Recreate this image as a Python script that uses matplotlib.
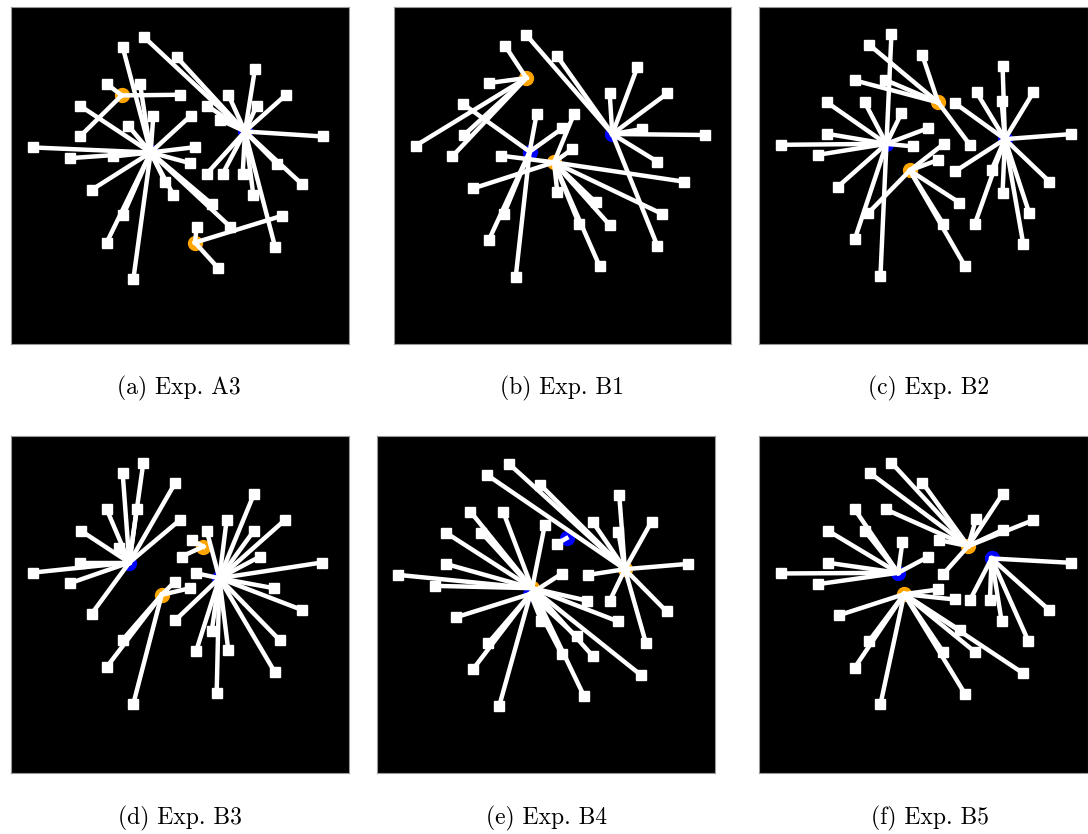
import matplotlib
matplotlib.use("Agg")
import matplotlib.pyplot as plt

# coordinates are read off the picture, in each panel's own pixel frame (3x)
# hubs: (x, y, colour), nodes: (x, y, index of hub)
a_hubs = [(452, 458, "blue"), (735, 395, "blue"), (365, 287, "orange"), (585, 728, "orange")]
a_nodes = [(368, 142, 0), (420, 252, 0), (240, 318, 0), (100, 443, 0), (210, 475, 0),
           (340, 470, 0), (275, 570, 0), (370, 645, 0), (320, 728, 0), (400, 838, 0),
           (460, 348, 0), (572, 348, 0), (585, 442, 0), (570, 490, 0), (495, 545, 0),
           (520, 585, 0), (635, 612, 0), (690, 680, 0), (385, 378, 0),
           (432, 112, 1), (530, 172, 1), (765, 207, 1), (858, 285, 1), (685, 285, 1),
           (770, 318, 1), (622, 318, 1), (968, 410, 1), (905, 552, 1), (830, 492, 1),
           (620, 522, 1), (668, 522, 1), (728, 522, 1), (760, 585, 1), (825, 740, 1),
           (660, 360, 1),
           (540, 285, 2), (240, 410, 2), (320, 252, 2),
           (845, 648, 3), (655, 805, 3), (590, 680, 3)]

b_hubs = [(422, 237, "orange"), (432, 458, "blue"), (505, 490, "orange"), (680, 405, "blue")]
b_nodes = [(358, 140, 0), (310, 252, 0), (90, 440, 0), (235, 408, 0), (200, 472, 0),
           (232, 315, 1), (453, 345, 1), (530, 388, 1), (355, 645, 1), (310, 722, 1),
           (390, 835, 1),
           (565, 345, 2), (345, 470, 2), (263, 568, 2), (515, 580, 2), (580, 675, 2),
           (642, 802, 2), (630, 610, 2), (672, 678, 2), (830, 645, 2), (895, 548, 2),
           (560, 450, 2),
           (422, 108, 3), (515, 172, 3), (815, 488, 3), (755, 205, 3), (845, 283, 3),
           (672, 283, 3), (770, 390, 3), (958, 408, 3), (815, 740, 3)]

c_hubs = [(565, 308, "orange"), (410, 432, "blue"), (480, 512, "orange"), (765, 418, "blue")]
c_nodes = [(358, 135, 0), (517, 165, 0), (315, 242, 0), (405, 240, 0), (660, 435, 0),
           (425, 102, 1), (232, 308, 1), (345, 308, 1), (455, 340, 1), (535, 385, 1),
           (232, 402, 1), (95, 435, 1), (205, 465, 1), (265, 560, 1), (315, 718, 1),
           (392, 828, 1), (490, 440, 1),
           (355, 640, 2), (582, 432, 2), (565, 480, 2), (628, 608, 2), (580, 672, 2),
           (645, 798, 2),
           (615, 310, 3), (680, 278, 3), (758, 198, 3), (850, 278, 3), (755, 305, 3),
           (962, 403, 3), (615, 515, 3), (725, 510, 3), (758, 578, 3), (898, 545, 3),
           (675, 672, 3), (838, 640, 3), (820, 732, 3)]

d_hubs = [(388, 398, "blue"), (658, 445, "blue"), (610, 350, "orange"), (485, 495, "orange")]
d_nodes = [(430, 98, 0), (368, 130, 0), (525, 160, 0), (320, 238, 0), (410, 238, 0),
           (540, 270, 0), (242, 302, 0), (358, 355, 0), (240, 398, 0), (100, 428, 0),
           (210, 460, 0), (275, 552, 0),
           (525, 572, 1), (620, 302, 1), (680, 270, 1), (762, 192, 1), (762, 302, 1),
           (855, 270, 1), (780, 380, 1), (965, 398, 1), (588, 430, 1), (822, 475, 1),
           (905, 540, 1), (840, 632, 1), (825, 728, 1), (685, 662, 1), (588, 665, 1),
           (650, 790, 1), (635, 605, 1),
           (575, 330, 2), (545, 380, 2),
           (368, 630, 3), (320, 712, 3), (400, 822, 3), (525, 455, 3), (570, 475, 3)]

e_hubs = [(590, 325, "blue"), (487, 475, "orange"), (482, 492, "blue"), (765, 418, "orange")]
e_nodes = [(560, 342, 0),
           (302, 245, 1), (400, 245, 1), (228, 308, 1), (335, 308, 1), (228, 402, 1),
           (85, 435, 1), (195, 468, 1), (525, 285, 1), (650, 512, 1), (745, 575, 1),
           (668, 678, 1), (642, 798, 1), (812, 735, 1),
           (575, 432, 2), (260, 562, 2), (355, 640, 2), (310, 718, 2), (388, 830, 2),
           (515, 575, 2), (575, 672, 2), (620, 620, 2),
           (418, 102, 3), (352, 135, 3), (512, 165, 3), (748, 195, 3), (845, 275, 3),
           (668, 275, 3), (745, 305, 3), (955, 402, 3), (655, 435, 3), (720, 512, 3),
           (890, 545, 3), (828, 640, 3)]

f_hubs = [(655, 348, "orange"), (725, 385, "blue"), (445, 428, "blue"), (463, 492, "orange")]
f_nodes = [(425, 98, 0), (362, 130, 0), (518, 158, 0), (408, 238, 0), (758, 192, 0),
           (850, 270, 0), (678, 268, 0), (758, 300, 0), (580, 432, 0), (568, 330, 0),
           (962, 398, 1), (660, 510, 1), (720, 510, 1), (755, 572, 1), (898, 540, 1),
           (835, 632, 1),
           (315, 238, 2), (235, 302, 2), (345, 302, 2), (458, 335, 2), (535, 380, 2),
           (235, 398, 2), (95, 430, 2), (205, 462, 2),
           (565, 478, 3), (615, 508, 3), (268, 555, 3), (358, 632, 3), (315, 712, 3),
           (392, 822, 3), (580, 665, 3), (645, 790, 3), (675, 665, 3), (818, 728, 3),
           (630, 600, 3)]

captions = ["(a) Exp. A3", "(b) Exp. B1", "(c) Exp. B2",
            "(d) Exp. B3", "(e) Exp. B4", "(f) Exp. B5"]

# panel frames (xmin, xmax, ymin, ymax) in the same units as the points
frames = [(33, 1047, 22, 1032), (25, 1036, 24, 1035), (28, 1014, 22, 1032),
          (33, 1047, 18, 1030), (22, 1035, 18, 1030), (28, 1014, 18, 1028)]

# panel boxes on the figure, in pixels: left, top, right, bottom
boxes = [(11, 7, 349, 344), (394, 7, 731, 344), (759, 7, 1088, 344),
         (11, 436, 349, 773), (377, 436, 715, 773), (759, 436, 1088, 773)]
cap_pos = [(179, 388), (562, 388), (929, 388), (180, 818), (547, 818), (930, 818)]

panels = [(a_hubs, a_nodes), (b_hubs, b_nodes), (c_hubs, c_nodes),
          (d_hubs, d_nodes), (e_hubs, e_nodes), (f_hubs, f_nodes)]

W, H = 1088, 834
fig = plt.figure(figsize=(W / 100, H / 100), dpi=100)

for (hubs, nodes), fr, bx, cap, cp in zip(panels, frames, boxes, captions, cap_pos):
    l, t, r, b = bx
    ax = fig.add_axes([l / W, 1 - b / H, (r - l) / W, (b - t) / H])
    ax.set_facecolor("black")
    for hx, hy, hc in hubs:
        ax.plot(hx, hy, "o", color=hc, ms=10, zorder=1)
    for nx, ny, k in nodes:
        hx, hy, _ = hubs[k]
        ax.plot([hx, nx], [hy, ny], color="white", lw=3.2, zorder=2)
    ax.plot([n[0] for n in nodes], [n[1] for n in nodes], "s", color="white",
            ms=7, zorder=3, ls="none")
    ax.set_xlim(fr[0], fr[1])
    ax.set_ylim(fr[3], fr[2])
    ax.set_xticks([])
    ax.set_yticks([])
    for s in ax.spines.values():
        s.set_color("#999999")
        s.set_linewidth(0.8)
    fig.text(cp[0] / W, 1 - cp[1] / H, cap, ha="center", va="center",
             family="cmr10", fontsize=17)

fig.savefig("out.png", dpi=100)
